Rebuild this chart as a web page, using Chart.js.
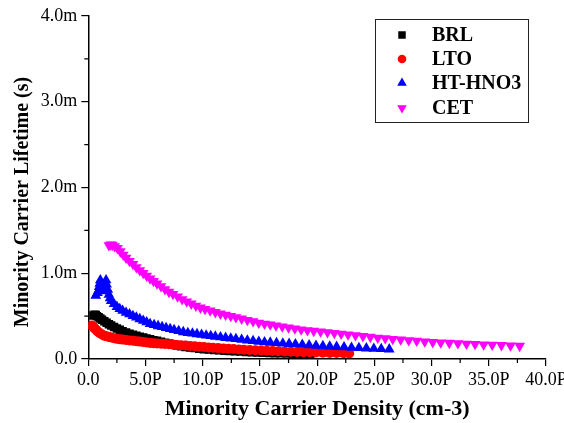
<!DOCTYPE html>
<html><head><meta charset="utf-8">
<script src="https://cdn.jsdelivr.net/npm/chart.js@4/dist/chart.umd.min.js"></script>
<style>html,body{margin:0;padding:0;background:#fff;}</style>
</head><body>
<canvas id="c" width="564" height="423" style="display:block;width:564px;height:423px"></canvas>
<script>
// ---- data (x in units of 1e15 cm-3 "P", y in ms "m") ----
const seriesNames = ['BRL', 'LTO', 'HT-HNO3', 'CET'];
const seriesColors = ['#000000', '#ff0000', '#0000ff', '#ff00ff'];

const brlX = [0.45,0.55,0.65,0.75,0.9,1.05,1.2,1.4,1.6,1.8,2.0,2.25,2.5,2.75,3.0,3.3,3.6,3.9,4.2,4.5,4.8,5.1,5.4,5.7,6.0,6.35,6.7,7.05,7.4,7.75,8.1,8.5,8.9,9.3,9.7,10.1,10.55,11.0,11.45,11.9,12.35,12.8,13.3,13.8,14.3,14.8,15.3,15.8,16.3,16.8,17.35,17.9,18.45,19.0,19.4];
const brlY = [0.508,0.515,0.512,0.5,0.486,0.471,0.457,0.44,0.423,0.406,0.39,0.372,0.355,0.34,0.325,0.309,0.296,0.282,0.27,0.26,0.25,0.24,0.23,0.22,0.212,0.201,0.191,0.18,0.169,0.158,0.148,0.141,0.134,0.127,0.12,0.114,0.11,0.105,0.101,0.097,0.092,0.089,0.086,0.082,0.079,0.076,0.073,0.071,0.068,0.066,0.064,0.061,0.059,0.057,0.055];

const ltoX = [0.3,0.4,0.5,0.6,0.75,0.9,1.05,1.2,1.4,1.6,1.8,2.0,2.25,2.5,2.75,3.0,3.3,3.6,3.9,4.2,4.5,4.8,5.1,5.4,5.7,6.0,6.35,6.7,7.05,7.4,7.75,8.1,8.5,8.9,9.3,9.7,10.1,10.5,10.9,11.35,11.8,12.25,12.7,13.15,13.6,14.1,14.6,15.1,15.6,16.1,16.6,17.15,17.7,18.25,18.8,19.35,19.9,20.5,21.1,21.7,22.3,22.8];
const ltoY = [0.39,0.382,0.366,0.35,0.331,0.312,0.297,0.286,0.272,0.264,0.258,0.251,0.243,0.235,0.23,0.226,0.222,0.217,0.212,0.208,0.203,0.198,0.193,0.188,0.184,0.182,0.178,0.175,0.171,0.168,0.164,0.16,0.156,0.152,0.148,0.144,0.139,0.135,0.131,0.127,0.123,0.119,0.116,0.112,0.108,0.104,0.102,0.099,0.096,0.093,0.09,0.087,0.085,0.083,0.08,0.078,0.075,0.073,0.071,0.07,0.068,0.066];

const htX = [0.65,0.8,0.9,0.95,1.0,1.05,1.1,1.25,1.35,1.45,1.55,1.6,1.7,1.8,1.9,2.0,2.25,2.5,2.75,3.0,3.3,3.6,3.9,4.2,4.5,4.8,5.1,5.4,5.75,6.1,6.45,6.8,7.15,7.5,7.9,8.3,8.7,9.1,9.5,9.9,10.3,10.7,11.1,11.55,12.0,12.45,12.9,13.4,13.9,14.4,14.9,15.4,15.9,16.45,17.0,17.55,18.1,18.7,19.3,19.9,20.5,21.1,21.7,22.35,23.0,23.65,24.3,24.95,25.6,26.3];
const htY = [0.74,0.77,0.80,0.84,0.88,0.92,0.85,0.79,0.83,0.88,0.92,0.87,0.81,0.75,0.71,0.677,0.643,0.609,0.585,0.563,0.541,0.522,0.503,0.485,0.466,0.447,0.429,0.41,0.397,0.384,0.373,0.362,0.351,0.339,0.327,0.314,0.305,0.298,0.291,0.283,0.276,0.269,0.262,0.254,0.247,0.24,0.233,0.225,0.217,0.21,0.202,0.196,0.192,0.187,0.182,0.177,0.172,0.167,0.161,0.156,0.151,0.147,0.142,0.137,0.132,0.128,0.125,0.121,0.117,0.113];

const cetX = [1.8,1.95,2.1,2.3,2.55,2.8,3.05,3.3,3.6,3.9,4.2,4.5,4.8,5.1,5.4,5.7,6.0,6.35,6.7,7.05,7.4,7.8,8.2,8.6,9.0,9.4,9.8,10.2,10.65,11.1,11.55,12.0,12.45,12.9,13.4,13.9,14.4,14.9,15.4,15.9,16.4,16.95,17.5,18.05,18.6,19.15,19.7,20.3,20.9,21.5,22.1,22.7,23.35,24.0,24.65,25.3,25.95,26.6,27.3,28.0,28.7,29.4,30.1,30.8,31.55,32.3,33.05,33.8,34.55,35.3,36.1,36.9,37.7];
const cetY = [1.325,1.335,1.33,1.315,1.292,1.254,1.215,1.18,1.143,1.106,1.069,1.035,1.003,0.971,0.939,0.909,0.88,0.847,0.813,0.782,0.756,0.727,0.697,0.67,0.645,0.621,0.598,0.582,0.564,0.546,0.528,0.514,0.5,0.486,0.47,0.454,0.439,0.423,0.411,0.401,0.39,0.378,0.366,0.355,0.344,0.335,0.327,0.319,0.31,0.302,0.294,0.285,0.276,0.266,0.257,0.248,0.24,0.233,0.226,0.218,0.211,0.203,0.196,0.192,0.187,0.183,0.178,0.173,0.169,0.165,0.161,0.156,0.152];

const xTickLabels = ['0.0','5.0P','10.0P','15.0P','20.0P','25.0P','30.0P','35.0P','40.0P'];
const yTickLabels = ['0.0','1.0m','2.0m','3.0m','4.0m'];
const xTitle = 'Minority Carrier Density (cm-3)';
const yTitle = 'Minority Carrier Lifetime (s)';

// ---- helpers ----
const pts = (xs, ys) => xs.map((v, i) => ({x: v, y: ys[i]}));
const SERIF = "'Liberation Serif', 'Times New Roman', serif";
const markerDefs = [
  {pointStyle: 'rect', rotation: 0, radius: 6.0, legendRadius: 5.3},
  {pointStyle: 'circle', rotation: 0, radius: 5.0, legendRadius: 4.3},
  {pointStyle: 'triangle', rotation: 0, radius: 6.2, legendRadius: 5.5},
  {pointStyle: 'triangle', rotation: 180, radius: 6.2, legendRadius: 5.5}
];
const allX = [brlX, ltoX, htX, cetX];
const allY = [brlY, ltoY, htY, cetY];

const datasets = seriesNames.map((name, i) => ({
  label: name,
  data: pts(allX[i], allY[i]),
  showLine: false,
  pointStyle: markerDefs[i].pointStyle,
  rotation: markerDefs[i].rotation,
  pointRadius: markerDefs[i].radius,
  pointHoverRadius: markerDefs[i].radius,
  pointBackgroundColor: seriesColors[i],
  pointBorderColor: seriesColors[i],
  pointBorderWidth: 0,
  order: seriesNames.length - 1 - i
}));

const decorPlugin = {
  id: 'decor',
  afterDraw(chart) {
    const ctx = chart.ctx;
    const xs = chart.scales.x, ys = chart.scales.y;
    ctx.save();
    // minor ticks
    ctx.strokeStyle = '#000';
    ctx.lineWidth = 1.2;
    ctx.beginPath();
    for (let v = 2.5; v < 40; v += 5) {
      const px = xs.getPixelForValue(v);
      ctx.moveTo(px, ys.bottom); ctx.lineTo(px, ys.bottom + 4);
    }
    for (let v = 0.5; v < 4; v += 1) {
      const py = ys.getPixelForValue(v);
      ctx.moveTo(xs.left, py); ctx.lineTo(xs.left - 4, py);
    }
    ctx.stroke();
    // y title
    ctx.fillStyle = '#000';
    ctx.font = 'bold 20px ' + SERIF;
    ctx.textAlign = 'center';
    ctx.textBaseline = 'middle';
    ctx.translate(22.5, 202);
    ctx.rotate(-Math.PI / 2);
    ctx.fillText(yTitle, 0, 0);
    ctx.restore();

    // legend
    ctx.save();
    ctx.strokeStyle = '#222';
    ctx.lineWidth = 1;
    ctx.strokeRect(375.5, 19.5, 153, 103);
    const rows = [35, 59, 83, 108];
    ctx.font = 'bold 20px ' + SERIF;
    ctx.textAlign = 'left';
    ctx.textBaseline = 'middle';
    seriesNames.forEach((name, i) => {
      ctx.fillStyle = seriesColors[i];
      ctx.strokeStyle = seriesColors[i];
      Chart.helpers.drawPoint(ctx, {pointStyle: markerDefs[i].pointStyle, rotation: markerDefs[i].rotation, radius: markerDefs[i].legendRadius, borderWidth: 0}, 402, rows[i]);
      ctx.fillStyle = '#000';
      ctx.fillText(name, 432, rows[i] + 1);
    });
    ctx.restore();
  }
};

new Chart(document.getElementById('c'), {
  type: 'scatter',
  data: {datasets},
  options: {
    responsive: false,
    devicePixelRatio: 1,
    animation: false,
    events: [],
    layout: {padding: {top: 16, right: 18, left: 0, bottom: 0}},
    plugins: {legend: {display: false}, tooltip: {enabled: false}},
    scales: {
      x: {
        type: 'linear', min: 0, max: 40,
        ticks: {
          stepSize: 5, autoSkip: false, maxRotation: 0, color: '#000', padding: 3,
          font: {family: SERIF, size: 18},
          callback: (v) => { const i = Math.round(v / 5); return Math.abs(v - i * 5) < 1e-6 ? xTickLabels[i] : ''; }
        },
        grid: {display: true, drawOnChartArea: false, drawTicks: true, tickLength: 7, color: '#000', lineWidth: 1.2},
        border: {display: true, color: '#000', width: 1.5},
        title: {display: true, text: xTitle, color: '#000', font: {family: SERIF, size: 22, weight: 'bold'}, padding: {top: 0, bottom: 0}},
        afterFit(s) { s.height = 64; s.paddingLeft = 0; s.paddingRight = 0; }
      },
      y: {
        type: 'linear', min: 0, max: 4,
        ticks: {
          stepSize: 1, autoSkip: false, color: '#000', padding: 4,
          font: {family: SERIF, size: 18},
          callback: (v) => { const i = Math.round(v); return Math.abs(v - i) < 1e-6 ? yTickLabels[i] : ''; }
        },
        grid: {display: true, drawOnChartArea: false, drawTicks: true, tickLength: 7, color: '#000', lineWidth: 1.2},
        border: {display: true, color: '#000', width: 1.5},
        afterFit(s) { s.width = 88.3; }
      }
    }
  },
  plugins: [decorPlugin]
});
</script>
</body></html>
